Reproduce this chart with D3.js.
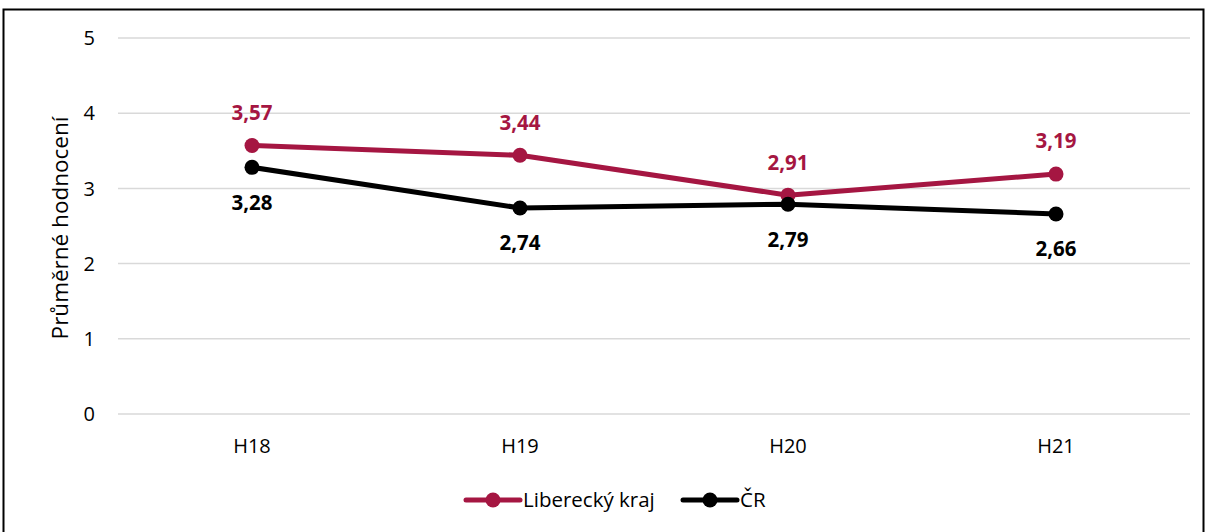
<!DOCTYPE html>
<html>
<head>
<meta charset="utf-8">
<script src="https://cdn.jsdelivr.net/npm/d3@7"></script>
<style>
  body { margin: 0; background: white; }
  svg text { font-family: "Open Sans", Lato, sans-serif; }
</style>
</head>
<body>
<div id="chart"></div>
<script>
let categories = ['H18', 'H19', 'H20', 'H21']
let liberecky = [3.57, 3.44, 2.91, 3.19]
let cr = [3.28, 2.74, 2.79, 2.66]
let yTicks = [0, 1, 2, 3, 4, 5]
let seriesNames = ['Liberecký kraj', 'ČR']
let seriesColors = ['#A51642', '#000000']

let width = 1208, height = 532

let svg = d3.select('#chart').append('svg')
    .attr('width', width)
    .attr('height', height)

// frame of the chart area
svg.append('rect')
    .attr('x', 3.5).attr('y', 9.5)
    .attr('width', 1200).attr('height', 540)
    .attr('fill', 'none')
    .attr('stroke', 'black')
    .attr('stroke-width', 2)

let x = d3.scaleBand().domain(categories).range([118, 1190])
let y = d3.scaleLinear().domain([0, 5]).range([414, 38])

// gridlines
svg.append('g')
    .selectAll('line')
    .data(yTicks)
    .join('line')
    .attr('x1', 118).attr('x2', 1190)
    .attr('y1', d => y(d)).attr('y2', d => y(d))
    .attr('stroke', '#d9d9d9')
    .attr('stroke-width', 1.5)

// y axis labels
svg.append('g')
    .selectAll('text')
    .data(yTicks)
    .join('text')
    .attr('x', 95)
    .attr('y', d => y(d))
    .attr('dy', '0.36em')
    .attr('text-anchor', 'end')
    .style('font-size', '20px')
    .text(d => d)

// x axis labels
svg.append('g')
    .selectAll('text')
    .data(categories)
    .join('text')
    .attr('x', d => x(d) + x.bandwidth() / 2)
    .attr('y', 446)
    .attr('dy', '0.36em')
    .attr('text-anchor', 'middle')
    .style('font-size', '20px')
    .text(d => d)

svg.append('text')
    .attr('transform', 'translate(68, 228) rotate(-90)')
    .attr('text-anchor', 'middle')
    .style('font-size', '22.5px')
    .text('Průměrné hodnocení')

let cx = d => x(d) + x.bandwidth() / 2
let line = d3.line().x(d => cx(d.cat)).y(d => y(d.val))
let fmt = v => d3.format('.2f')(v).replace('.', ',')

let seriesData = [liberecky, cr].map(arr => arr.map((v, i) => ({cat: categories[i], val: v})))

seriesData.forEach((data, si) => {
    let g = svg.append('g')
    g.append('path')
        .datum(data)
        .attr('d', line)
        .attr('fill', 'none')
        .attr('stroke', seriesColors[si])
        .attr('stroke-width', 5)
        .attr('stroke-linejoin', 'round')
    g.selectAll('circle')
        .data(data)
        .join('circle')
        .attr('cx', d => cx(d.cat))
        .attr('cy', d => y(d.val))
        .attr('r', 7.5)
        .attr('fill', seriesColors[si])
    g.selectAll('text')
        .data(data)
        .join('text')
        .attr('x', d => cx(d.cat))
        .attr('y', d => y(d.val) + (si == 0 ? -33 : 35))
        .attr('dy', '0.36em')
        .attr('text-anchor', 'middle')
        .style('font-size', '20.5px')
        .style('font-weight', 'bold')
        .attr('fill', seriesColors[si])
        .text(d => fmt(d.val))
})

// legend
let legendX = [466, 683]
seriesNames.forEach((name, i) => {
    let lg = svg.append('g').attr('transform', `translate(${legendX[i]}, 500)`)
    lg.append('line')
        .attr('x1', 0).attr('x2', 54)
        .attr('stroke', seriesColors[i])
        .attr('stroke-width', 5)
        .attr('stroke-linecap', 'round')
    lg.append('circle')
        .attr('cx', 27).attr('r', 7.5)
        .attr('fill', seriesColors[i])
    lg.append('text')
        .attr('x', 57)
        .attr('dy', '0.36em')
        .style('font-size', '20.5px')
        .text(name)
})
</script>
</body>
</html>
